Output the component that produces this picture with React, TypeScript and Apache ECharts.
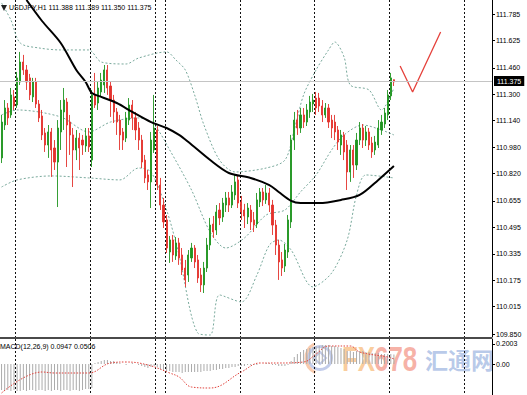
import React, { useEffect, useRef } from "react";
import * as echarts from "echarts";

// ---------- data ----------
const symbolLabel = "USDJPY,H1";
const lastBar = { open: 111.388, high: 111.389, low: 111.35, close: 111.375 };
const macdLabel = "MACD(12,26,9)";
const macdLast = { main: 0.0947, signal: 0.0506 };

// total hourly slots visible (candles + empty right margin)
const SLOT_COUNT = 158;
// slots where the dotted period separators fall
const periodBreaks = [5, 29, 50, 53, 77, 101, 125, 149];

// candles: [open, close, low, high]
const ohlc: number[][] = [
  [110.915, 111.132, 110.884, 111.175], [111.114, 111.217, 111.084, 111.265], [111.217, 111.157, 111.114, 111.247],
  [111.175, 111.296, 111.157, 111.338], [111.284, 111.229, 111.205, 111.326], [111.235, 111.399, 111.217, 111.435],
  [111.374, 111.495, 111.356, 111.556], [111.495, 111.447, 111.417, 111.538], [111.447, 111.374, 111.326, 111.477],
  [111.399, 111.296, 111.265, 111.423], [111.284, 111.374, 111.253, 111.399], [111.374, 111.241, 111.217, 111.399],
  [111.241, 111.157, 111.132, 111.265], [111.169, 111.054, 111.023, 111.205], [111.066, 110.993, 110.951, 111.096],
  [110.993, 111.072, 110.915, 111.114], [111.072, 110.963, 110.8, 111.096], [110.975, 110.89, 110.842, 111.023],
  [110.89, 111.096, 110.618, 111.144], [111.072, 111.205, 110.963, 111.265], [111.193, 111.265, 111.084, 111.338],
  [111.253, 111.114, 110.86, 111.277], [111.132, 111.054, 110.933, 111.175], [111.054, 110.963, 110.739, 111.096],
  [110.963, 111.035, 110.902, 111.084], [111.035, 110.975, 110.842, 111.066], [111.023, 110.993, 110.933, 111.054],
  [110.987, 111.048, 110.951, 111.096], [111.048, 110.981, 110.951, 111.096], [110.902, 111.296, 110.86, 111.326],
  [111.296, 111.235, 111.217, 111.429], [111.247, 111.338, 111.205, 111.374], [111.314, 111.386, 111.284, 111.429],
  [111.356, 111.447, 111.308, 111.477], [111.447, 111.338, 111.296, 111.477], [111.35, 111.265, 111.163, 111.374],
  [111.265, 111.193, 111.126, 111.296], [111.193, 111.132, 111.054, 111.217], [111.144, 111.054, 110.963, 111.175],
  [111.072, 111.023, 110.963, 111.096], [111.035, 111.157, 111.011, 111.193], [111.144, 111.235, 111.114, 111.277],
  [111.235, 111.157, 111.084, 111.265], [111.157, 111.084, 111.023, 111.193], [111.096, 111.023, 110.963, 111.132],
  [111.023, 110.89, 110.854, 111.054], [110.902, 110.794, 110.763, 110.933], [110.812, 110.77, 110.721, 110.842],
  [110.77, 111.023, 110.612, 111.072], [110.963, 111.096, 110.945, 111.296], [111.084, 110.751, 110.721, 111.108],
  [110.751, 110.63, 110.6, 110.794], [110.63, 110.528, 110.491, 110.673], [110.54, 110.37, 110.34, 110.57],
  [110.346, 110.419, 110.28, 110.443], [110.419, 110.328, 110.286, 110.449], [110.322, 110.401, 110.298, 110.437],
  [110.401, 110.31, 110.268, 110.431], [110.328, 110.237, 110.207, 110.37], [110.249, 110.177, 110.135, 110.298],
  [110.207, 110.328, 110.165, 110.358], [110.31, 110.37, 110.286, 110.401], [110.37, 110.286, 110.249, 110.388],
  [110.298, 110.189, 110.159, 110.328], [110.207, 110.147, 110.104, 110.249], [110.147, 110.249, 110.098, 110.286],
  [110.249, 110.388, 110.225, 110.431], [110.388, 110.509, 110.358, 110.552], [110.515, 110.467, 110.431, 110.564],
  [110.479, 110.588, 110.449, 110.63], [110.6, 110.552, 110.509, 110.642], [110.558, 110.642, 110.528, 110.673],
  [110.63, 110.673, 110.588, 110.709], [110.673, 110.63, 110.588, 110.709], [110.63, 110.709, 110.612, 110.751],
  [110.691, 110.77, 110.661, 110.812], [110.782, 110.642, 110.612, 110.812], [110.649, 110.588, 110.54, 110.685],
  [110.6, 110.564, 110.491, 110.637], [110.558, 110.612, 110.515, 110.642], [110.6, 110.528, 110.479, 110.63],
  [110.54, 110.509, 110.467, 110.588], [110.515, 110.661, 110.491, 110.703], [110.649, 110.709, 110.618, 110.733],
  [110.709, 110.661, 110.624, 110.733], [110.661, 110.703, 110.637, 110.751], [110.703, 110.63, 110.588, 110.733],
  [110.63, 110.509, 110.449, 110.661], [110.509, 110.388, 110.328, 110.54], [110.388, 110.286, 110.177, 110.419],
  [110.298, 110.249, 110.201, 110.346], [110.261, 110.358, 110.225, 110.395], [110.346, 110.54, 110.31, 110.57],
  [110.528, 111.023, 110.491, 111.054], [111.023, 111.144, 110.963, 111.193], [111.144, 111.096, 111.054, 111.205],
  [111.096, 111.175, 111.066, 111.217], [111.175, 111.132, 111.096, 111.217], [111.132, 111.205, 111.108, 111.241],
  [111.193, 111.253, 111.157, 111.29], [111.241, 111.265, 111.193, 111.302], [111.277, 111.217, 111.175, 111.314],
  [111.277, 111.229, 111.193, 111.308], [111.229, 111.175, 111.132, 111.265], [111.175, 111.217, 111.157, 111.247],
  [111.217, 111.132, 111.096, 111.241], [111.144, 111.096, 111.035, 111.175], [111.132, 111.072, 111.023, 111.175],
  [111.084, 111.011, 110.963, 111.108], [110.993, 111.054, 110.933, 111.084], [111.054, 110.951, 110.902, 111.072],
  [110.993, 110.83, 110.721, 111.023], [110.83, 110.963, 110.77, 110.993], [110.963, 110.872, 110.794, 110.993],
  [110.872, 111.023, 110.842, 111.066], [111.023, 111.096, 110.993, 111.132], [111.096, 111.023, 110.975, 111.12],
  [111.023, 111.072, 110.987, 111.108], [111.072, 110.993, 110.963, 111.096], [111.005, 110.951, 110.915, 111.042],
  [110.963, 111.011, 110.933, 111.048], [110.993, 111.096, 110.975, 111.144], [111.084, 111.132, 111.054, 111.175],
  [111.12, 111.187, 111.096, 111.217], [111.175, 111.296, 111.144, 111.326], [111.29, 111.399, 111.265, 111.429],
  [lastBar.open, lastBar.close, lastBar.low, lastBar.high],
];

// moving average (black) read at points: [slot, price]
const maPoints: number[][] = [
  [8, 111.87], [13, 111.743], [19, 111.61], [24, 111.447], [27, 111.374], [29, 111.308], [32, 111.284],
  [37, 111.247], [42, 111.193], [48, 111.132], [53, 111.096], [57, 111.054], [60, 111.011], [67, 110.902],
  [73, 110.824], [80, 110.794], [86, 110.751], [89, 110.709], [93, 110.655], [96, 110.642], [102, 110.642],
  [109, 110.661], [115, 110.691], [121, 110.782], [126, 110.866],
];

// Bollinger bands read at points: [slot, price]
const bbUpper: number[][] = [
  [0, 111.852], [3, 111.749], [6, 111.61], [12, 111.58], [19, 111.568], [28, 111.568], [32, 111.495],
  [40, 111.483], [44, 111.519], [53, 111.556], [56, 111.507], [59, 111.447], [62, 111.296], [65, 111.114],
  [70, 110.902], [75, 110.83], [85, 110.854], [91, 110.902], [94, 111.084], [97, 111.296], [101, 111.447],
  [105, 111.568], [107, 111.616], [110, 111.525], [112, 111.356], [118, 111.326], [122, 111.205], [126, 111.338],
];
const bbMiddle: number[][] = [
  [0, 111.175], [5, 111.205], [19, 111.163], [28, 111.072], [35, 111.132], [44, 111.157], [49, 111.114],
  [54, 110.963], [61, 110.721], [67, 110.467], [72, 110.37], [78, 110.431], [85, 110.57], [91, 110.6],
  [96, 110.709], [101, 110.812], [106, 110.963], [110, 111.054], [116, 111.114], [122, 111.084], [126, 111.054],
];
const bbLower: number[][] = [
  [0, 110.739], [5, 110.782], [16, 110.806], [28, 110.794], [38, 110.782], [44, 110.854], [48, 110.83],
  [53, 110.6], [57, 110.328], [63, 109.856], [67, 109.844], [70, 110.086], [77, 110.044], [82, 110.207],
  [86, 110.388], [89, 110.419], [93, 110.358], [100, 110.135], [106, 110.219], [111, 110.419], [114, 110.691],
  [117, 110.812], [126, 110.794],
];

// hand-drawn trend line (red): [slot, price]
const drawnLine: number[][] = [[128, 111.471], [132, 111.314], [141, 111.676]];

// MACD histogram per candle and signal line points
const macdHist: number[] = [
  -0.26, -0.27, -0.26, -0.27, -0.26, -0.27, -0.27, -0.26, -0.27, -0.26,
  -0.26, -0.27, -0.26, -0.26, -0.27, -0.26, -0.27, -0.26, -0.26, -0.27,
  -0.26, -0.26, -0.27, -0.26, -0.26, -0.27, -0.26, -0.25, -0.25, -0.24,
  0.01, 0.02, 0.03, 0.04, 0.04, 0.03, 0.03, 0.02, 0.01, 0.0,
  -0.01, 0.0, 0.01, 0.0, -0.01, -0.02, -0.03, -0.04, -0.03, -0.02,
  -0.03, -0.05, -0.06, -0.07, -0.07, -0.08, -0.08, -0.08, -0.09, -0.08,
  -0.08, -0.08, -0.08, -0.08, -0.08, -0.07, -0.07, -0.07, -0.06, -0.06,
  -0.05, -0.05, -0.04, -0.04, -0.03, -0.03, -0.02, -0.02, -0.02, -0.01,
  -0.01, -0.01, -0.01, 0.0, 0.0, 0.01, 0.01, -0.01, -0.01, -0.02,
  -0.02, -0.02, -0.01, 0.03, 0.07, 0.1, 0.12, 0.14, 0.15, 0.16,
  0.17, 0.18, 0.18, 0.19, 0.19, 0.19, 0.18, 0.18, 0.17, 0.16,
  0.15, 0.13, 0.13, 0.12, 0.13, 0.13, 0.13, 0.12, 0.12, 0.11,
  0.11, 0.11, 0.1, 0.1, 0.1, 0.1, macdLast.main,
];
const macdSignal: number[][] = [
  [0, -0.29], [13, -0.08], [17, -0.09], [28, -0.09], [35, 0.01], [40, 0.02], [47, -0.01], [54, -0.09],
  [57, -0.13], [61, -0.23], [67, -0.24], [77, -0.08], [83, 0.01], [89, 0.01], [97, 0.02], [101, 0.1],
  [105, 0.18], [112, 0.18], [115, 0.12], [124, 0.07], [126, macdLast.signal],
];

// axis tick labels
const priceTicks = [111.785, 111.625, 111.46, 111.3, 111.14, 110.98, 110.82, 110.655, 110.495, 110.335, 110.175, 110.015, 109.85];
const macdTicks = [0.2003, 0];

const slots = Array.from({ length: SLOT_COUNT }, (_, i) => `H${i}`);

const FONT = "Liberation Sans, Arial, sans-serif";
const UP = "#1f941f";
const DOWN = "#e3322d";
const BAND = "#79a99c";

const xAxisBase = (gridIndex: number) => ({
  type: "category",
  gridIndex,
  data: slots,
  boundaryGap: true,
  axisLine: { show: false },
  axisTick: { show: false },
  axisLabel: { show: false },
  splitLine: {
    show: true,
    interval: (i: number) => periodBreaks.indexOf(i) >= 0,
    lineStyle: { color: "#111", type: [2, 2], width: 1 },
  },
});

const option: any = {
  animation: false,
  backgroundColor: "#ffffff",
  title: [
    {
      text: `${symbolLabel} ${lastBar.open.toFixed(3)} ${lastBar.high.toFixed(3)} ${lastBar.low.toFixed(3)} ${lastBar.close.toFixed(3)}`,
      left: 9,
      top: 4,
      padding: 0,
      textStyle: { fontSize: 7, fontWeight: "normal", color: "#000", fontFamily: FONT },
    },
    {
      text: `${macdLabel} ${macdLast.main.toFixed(4)} ${macdLast.signal.toFixed(4)}`,
      left: 0,
      top: 343,
      padding: 0,
      textStyle: { fontSize: 7, fontWeight: "normal", color: "#000", fontFamily: FONT },
    },
  ],
  grid: [
    { left: 0, top: 0, width: 492, height: 337, outerBoundsMode: "none" },
    { left: 0, top: 339, width: 492, height: 56, outerBoundsMode: "none" },
  ],
  xAxis: [xAxisBase(0), xAxisBase(1)],
  yAxis: [
    {
      type: "value",
      gridIndex: 0,
      position: "right",
      min: 109.832,
      max: 111.87,
      splitLine: { show: false },
      axisLine: { show: true, lineStyle: { color: "#000", width: 1 } },
      axisTick: { show: true, length: 3, customValues: priceTicks, lineStyle: { color: "#000" } },
      axisLabel: {
        customValues: priceTicks,
        fontSize: 7,
        color: "#000",
        fontFamily: FONT,
        margin: 4,
        formatter: (v: number) => v.toFixed(3),
      },
    },
    {
      type: "value",
      gridIndex: 1,
      position: "right",
      min: -0.31,
      max: 0.25,
      splitLine: { show: false },
      axisLine: { show: true, lineStyle: { color: "#000", width: 1 } },
      axisTick: { show: true, length: 3, customValues: macdTicks, lineStyle: { color: "#000" } },
      axisLabel: {
        customValues: macdTicks,
        fontSize: 7,
        color: "#000",
        fontFamily: FONT,
        margin: 4,
        formatter: (v: number) => (v === 0 ? "0.00" : v.toFixed(4)),
      },
    },
  ],
  series: [
    {
      type: "line",
      name: "BB upper",
      xAxisIndex: 0,
      yAxisIndex: 0,
      data: bbUpper,
      symbol: "none",
      smooth: 0.3,
      lineStyle: { color: BAND, width: 1, type: [2, 2] },
      z: 1,
    },
    {
      type: "line",
      name: "BB middle",
      xAxisIndex: 0,
      yAxisIndex: 0,
      data: bbMiddle,
      symbol: "none",
      smooth: 0.3,
      lineStyle: { color: BAND, width: 1, type: [2, 2] },
      z: 1,
    },
    {
      type: "line",
      name: "BB lower",
      xAxisIndex: 0,
      yAxisIndex: 0,
      data: bbLower,
      symbol: "none",
      smooth: 0.3,
      lineStyle: { color: BAND, width: 1, type: [2, 2] },
      z: 1,
    },
    {
      type: "candlestick",
      name: symbolLabel,
      xAxisIndex: 0,
      yAxisIndex: 0,
      data: ohlc,
      barWidth: 1.6,
      itemStyle: { color: UP, color0: DOWN, borderColor: UP, borderColor0: DOWN, borderWidth: 0.9 },
      z: 3,
      markLine: {
        silent: true,
        symbol: ["none", "none"],
        animation: false,
        lineStyle: { color: "#c4c4c4", type: "solid", width: 1 },
        label: {
          show: true,
          position: "end",
          distance: 2,
          formatter: () => lastBar.close.toFixed(3),
          backgroundColor: "#000",
          color: "#fff",
          fontSize: 7,
          fontFamily: FONT,
          padding: [2, 3, 1, 3],
        },
        data: [{ yAxis: lastBar.close }],
      },
    },
    {
      type: "line",
      name: "MA",
      xAxisIndex: 0,
      yAxisIndex: 0,
      data: maPoints,
      symbol: "none",
      smooth: 0.3,
      lineStyle: { color: "#000", width: 2 },
      z: 4,
    },
    {
      type: "line",
      name: "trend",
      xAxisIndex: 0,
      yAxisIndex: 0,
      data: drawnLine,
      symbol: "none",
      lineStyle: { color: "#e5413b", width: 1.3 },
      z: 4,
    },
    {
      type: "bar",
      name: "MACD",
      xAxisIndex: 1,
      yAxisIndex: 1,
      data: macdHist,
      barWidth: 1,
      itemStyle: { color: "#ababab" },
      z: 2,
    },
    {
      type: "line",
      name: "Signal",
      xAxisIndex: 1,
      yAxisIndex: 1,
      data: macdSignal,
      symbol: "none",
      smooth: 0.4,
      lineStyle: { color: "#e0413b", width: 1, type: [1.5, 1.5] },
      z: 3,
    },
  ],
  graphic: [
    { type: "polygon", shape: { points: [[1, 5], [7, 5], [4, 11]] }, style: { fill: "#222" }, z: 10 },
    { type: "rect", shape: { x: 0, y: 337, width: 492, height: 2 }, style: { fill: "#4a4a4a" }, z: 10 },
    // watermark
    {
      type: "group",
      z: 100,
      children: [
        { type: "ring", shape: { cx: 320, cy: 358, r: 13, r0: 10 }, style: { fill: "#8fa3d9", opacity: 0.55 } },
        {
          type: "arc",
          shape: { cx: 322, cy: 358, r: 16, startAngle: 2.0, endAngle: 4.2 },
          style: { stroke: "#f5a878", lineWidth: 3, fill: "none", opacity: 0.6 },
        },
        {
          type: "polygon",
          shape: { points: [[314, 358], [320, 352], [326, 358], [320, 364]] },
          style: { stroke: "#8fa3d9", lineWidth: 2, fill: "none", opacity: 0.55 },
        },
        {
          type: "text",
          x: 342,
          y: 359,
          scaleX: 0.72,
          style: {
            text: "FX",
            fontSize: 36,
            fontWeight: "bold",
            fontFamily: FONT,
            verticalAlign: "middle",
            align: "left",
            fill: "#f8bd7e",
            opacity: 0.75,
          },
        },
        {
          type: "text",
          x: 374,
          y: 359,
          scaleX: 0.72,
          style: {
            text: "678",
            fontSize: 36,
            fontWeight: "bold",
            fontFamily: FONT,
            verticalAlign: "middle",
            align: "left",
            fill: "#f4998a",
            opacity: 0.75,
          },
        },
        {
          type: "text",
          x: 425,
          y: 359,
          style: {
            text: "汇通网",
            fontSize: 23,
            fontWeight: "bold",
            fontFamily: "Noto Sans CJK SC",
            verticalAlign: "middle",
            align: "left",
            fill: "#9ab2e0",
            opacity: 0.7,
          },
        },
      ],
    },
  ],
};

export default function App() {
  const ref = useRef<HTMLDivElement>(null);
  useEffect(() => {
    if (!ref.current) return;
    const chart = echarts.init(ref.current, null, { renderer: "svg" });
    chart.setOption(option);
    return () => chart.dispose();
  }, []);
  return (
    <div
      ref={ref}
      style={{ position: "fixed", left: 0, top: 0, width: 527, height: 395, background: "#fff" }}
    />
  );
}
